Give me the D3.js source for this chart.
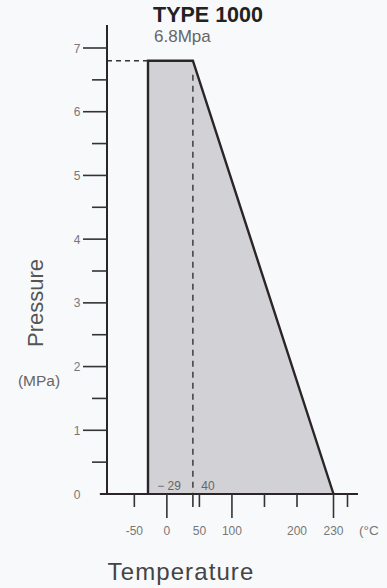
<!DOCTYPE html>
<html><head><meta charset="utf-8">
<script src="https://cdn.jsdelivr.net/npm/d3@7"></script>
<style>
html,body{margin:0;padding:0;background:#f8f9fb;}
svg{display:block;}
text{font-family:"Liberation Sans",Arial,sans-serif;}
</style></head>
<body><svg id="c" width="387" height="588"></svg>
<script>
// Data
const boundaryTemps = [-29, -29, 40, 230];      // °C
const boundaryPress = [0, 6.8, 6.8, 0];          // MPa
const maxPressure = 6.8;
const maxPressureTempEnd = 40;
const minTemp = -29;
const yMajorTicks = [1, 2, 3, 4, 5, 6, 7];
const yMinorTicks = [0.5, 1.5, 2.5, 3.5, 4.5, 5.5, 6.5];
const yLabels = [0, 1, 2, 3, 4, 5, 6, 7];
const xShortTicks = [-50, 40, 50, 150, 200, 250];
const xLongTicks = [0, 100, 230];
const xLabels = [-50, 0, 50, 100, 200, 230];
const insideLabels = [{v: -29, t: "\u2212 29"}, {v: 40, t: "40"}];

const svg = d3.select("#c");
// schematic (piecewise) temperature axis
const x = d3.scaleLinear().domain([-92, 200, 230, 250]).range([107, 297, 333.5, 347.5]);
const y = d3.scaleLinear().domain([0, 7]).range([494, 48]);
const ink = "#2b2528";

// filled region
const pts = boundaryTemps.map((t, i) => [x(t), y(boundaryPress[i])]);
svg.append("path")
  .attr("d", d3.line()(pts))
  .attr("fill", "#d2d2d6").attr("stroke", "none");
svg.append("path")
  .attr("d", d3.line()(pts))
  .attr("fill", "none").attr("stroke", ink).attr("stroke-width", 2.4)
  .attr("stroke-linejoin", "miter");

// dashed guides
svg.append("line")
  .attr("x1", x(-92)).attr("x2", x(minTemp))
  .attr("y1", y(maxPressure)).attr("y2", y(maxPressure))
  .attr("stroke", "#333").attr("stroke-width", 1.4).attr("stroke-dasharray", "5,4");
svg.append("line")
  .attr("x1", x(maxPressureTempEnd)).attr("x2", x(maxPressureTempEnd))
  .attr("y1", y(maxPressure) + 14).attr("y2", y(0))
  .attr("stroke", "#333").attr("stroke-width", 1.4).attr("stroke-dasharray", "6,5");

// y axis
svg.append("line").attr("x1", x(-92)).attr("x2", x(-92)).attr("y1", 25).attr("y2", y(0))
  .attr("stroke", ink).attr("stroke-width", 2);
svg.selectAll(".ymaj").data(yMajorTicks).enter().append("line")
  .attr("x1", x(-92) - 24).attr("x2", x(-92)).attr("y1", d => y(d)).attr("y2", d => y(d))
  .attr("stroke", "#333").attr("stroke-width", 1.6);
svg.selectAll(".ymin").data(yMinorTicks).enter().append("line")
  .attr("x1", x(-92) - 15).attr("x2", x(-92)).attr("y1", d => y(d)).attr("y2", d => y(d))
  .attr("stroke", "#333").attr("stroke-width", 1.6);
svg.selectAll(".ylab").data(yLabels).enter().append("text")
  .attr("x", x(-92) - 30).attr("y", d => y(d) + 4.5)
  .attr("text-anchor", "middle").attr("font-size", 12).attr("fill", "#777")
  .text(d => d);

// x axis
svg.append("line").attr("x1", x(-103)).attr("x2", x(265)).attr("y1", y(0)).attr("y2", y(0))
  .attr("stroke", ink).attr("stroke-width", 2.2);
svg.selectAll(".xs").data(xShortTicks).enter().append("line")
  .attr("x1", d => x(d)).attr("x2", d => x(d)).attr("y1", y(0)).attr("y2", y(0) + 13)
  .attr("stroke", "#333").attr("stroke-width", 1.6);
svg.selectAll(".xl").data(xLongTicks).enter().append("line")
  .attr("x1", d => x(d)).attr("x2", d => x(d)).attr("y1", y(0)).attr("y2", y(0) + 24)
  .attr("stroke", "#333").attr("stroke-width", 1.6);
svg.selectAll(".xlab").data(xLabels).enter().append("text")
  .attr("x", d => x(d)).attr("y", 535)
  .attr("text-anchor", "middle").attr("font-size", 12).attr("fill", "#777")
  .text(d => d);
svg.append("text").attr("x", 359).attr("y", 535).attr("font-size", 13.5).attr("fill", "#777").text("(\u00B0C");

svg.selectAll(".inl").data(insideLabels).enter().append("text")
  .attr("x", (d, i) => x(d.v) + (i === 0 ? 21 : 15)).attr("y", 490)
  .attr("text-anchor", "middle").attr("font-size", 12).attr("fill", "#666")
  .text(d => d.t);

// titles
svg.append("text").attr("x", 208).attr("y", 22).attr("text-anchor", "middle")
  .attr("font-size", 21.5).attr("font-weight", "bold").attr("fill", "#222").text("TYPE 1000");
svg.append("text").attr("x", 154).attr("y", 42)
  .attr("font-size", 17).attr("fill", "#666").text("6.8Mpa");
svg.append("text").attr("transform", "translate(43,303) rotate(-90)").attr("text-anchor", "middle")
  .attr("font-size", 22).attr("fill", "#555").text("Pressure");
svg.append("text").attr("x", 39).attr("y", 386).attr("text-anchor", "middle")
  .attr("font-size", 15.5).attr("fill", "#666").text("(MPa)");
svg.append("text").attr("x", 181).attr("y", 580).attr("text-anchor", "middle")
  .attr("font-size", 24).attr("letter-spacing", 1.1).attr("fill", "#444").text("Temperature");
</script></body></html>
